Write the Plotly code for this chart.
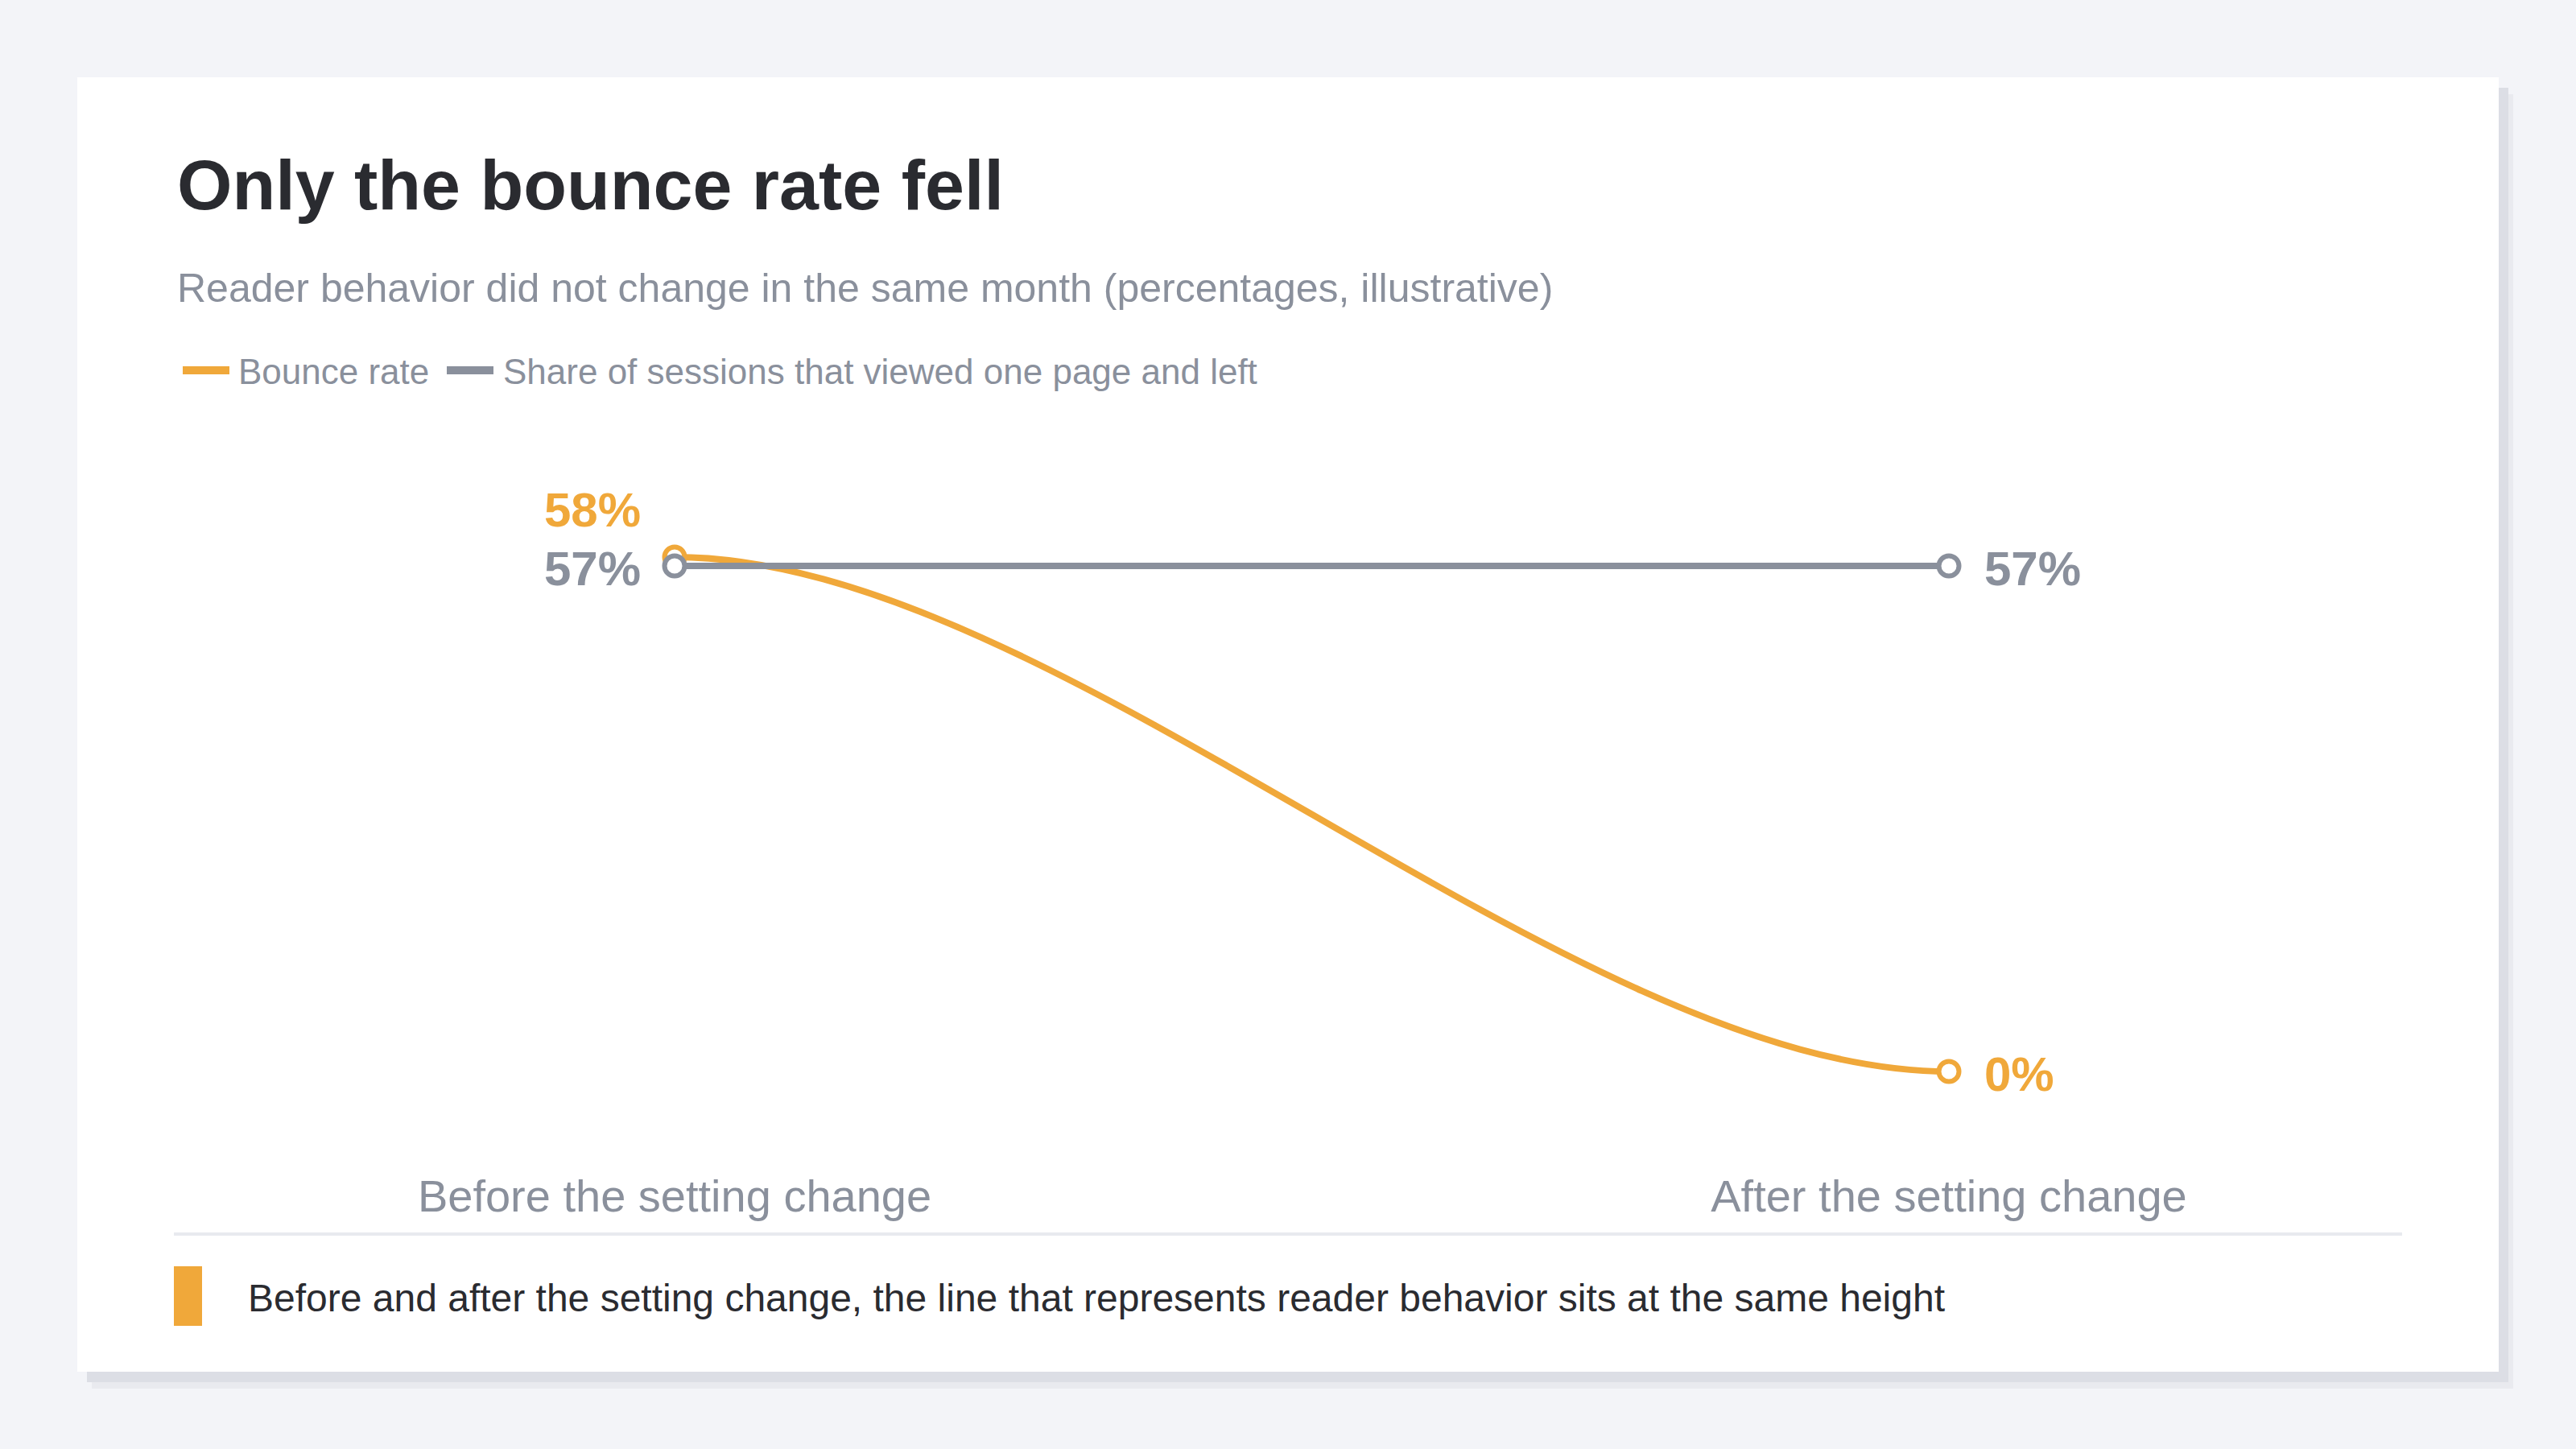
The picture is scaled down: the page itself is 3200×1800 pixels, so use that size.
import plotly.graph_objects as go

# ---------------------------------------------------------
# data
# ---------------------------------------------------------
categories = ["Before the setting change", "After the setting change"]
series_names = ["Bounce rate", "Share of sessions that viewed one page and left"]
bounce_rate = [58, 0]
single_page_share = [57, 57]

title_text = "Only the bounce rate fell"
subtitle_text = "Reader behavior did not change in the same month (percentages, illustrative)"
note_text = "Before and after the setting change, the line that represents reader behavior sits at the same height"

# ---------------------------------------------------------
# style
# ---------------------------------------------------------
W, H = 3200, 1800
PLOT_BOTTOM = 1440          # px from top where the plot area ends
BG = "#f3f4f8"
CARD = "#ffffff"
ORANGE = "#f0a83a"
GRAY = "#8a909c"
DARK = "#2a2b30"
FONT = "Liberation Sans, Arial, Helvetica, sans-serif"
CURVE_PULL = 0.3            # bezier handle length, share of the x step
LINE_W = 8

x_pos = list(range(len(categories)))


def px_x(px):
    return px / W


def px_y(py):
    # paper y is relative to the plot area (top margin 0, bottom margin H-PLOT_BOTTOM)
    return (PLOT_BOTTOM - py) / PLOT_BOTTOM


fig = go.Figure()

# orange end markers (curve itself is a shape built from the same values)
fig.add_trace(go.Scatter(
    x=x_pos, y=bounce_rate, mode="markers", name=series_names[0],
    marker=dict(symbol="circle", size=25, color="white", line=dict(color=ORANGE, width=6)),
    showlegend=False, hoverinfo="skip", cliponaxis=False,
))
fig.add_trace(go.Scatter(
    x=x_pos, y=single_page_share, mode="lines+markers", name=series_names[1],
    line=dict(color=GRAY, width=LINE_W),
    marker=dict(symbol="circle", size=25, color="white", line=dict(color=GRAY, width=6)),
    showlegend=False, hoverinfo="skip", cliponaxis=False,
))

shapes = []
# card shadow + card
shapes.append(dict(type="rect", xref="paper", yref="paper", layer="below",
                   x0=px_x(114), x1=px_x(3122), y0=px_y(117), y1=px_y(1725),
                   fillcolor="#e9eaef", line=dict(width=0)))
shapes.append(dict(type="rect", xref="paper", yref="paper", layer="below",
                   x0=px_x(108), x1=px_x(3116), y0=px_y(109), y1=px_y(1717),
                   fillcolor="#dcdee5", line=dict(width=0)))
shapes.append(dict(type="rect", xref="paper", yref="paper", layer="below",
                   x0=px_x(96), x1=px_x(3104), y0=px_y(96), y1=px_y(1704),
                   fillcolor=CARD, line=dict(width=0)))

# smooth bounce-rate curve: horizontal tangents at both ends
x0, x1 = x_pos[0], x_pos[1]
h0 = x0 + CURVE_PULL * (x1 - x0)
h1 = x1 - CURVE_PULL * (x1 - x0)
path = f"M {x0},{bounce_rate[0]} C {h0},{bounce_rate[0]} {h1},{bounce_rate[1]} {x1},{bounce_rate[1]}"
shapes.append(dict(type="path", xref="x", yref="y", layer="below", path=path,
                   line=dict(color=ORANGE, width=LINE_W)))

# divider + note marker
shapes.append(dict(type="line", xref="paper", yref="paper", layer="below",
                   x0=px_x(216), x1=px_x(2984), y0=px_y(1533), y1=px_y(1533),
                   line=dict(color="#e8eaef", width=4)))
shapes.append(dict(type="rect", xref="paper", yref="paper", layer="below",
                   x0=px_x(216), x1=px_x(251), y0=px_y(1573), y1=px_y(1647),
                   fillcolor=ORANGE, line=dict(width=0)))

# manual legend swatches
legend_items = [(series_names[0], ORANGE, 227, 298), (series_names[1], GRAY, 555, 627)]
for name, col, sx, tx in legend_items:
    shapes.append(dict(type="line", xref="paper", yref="paper",
                       x0=px_x(sx), x1=px_x(sx + 58), y0=px_y(460), y1=px_y(460),
                       line=dict(color=col, width=10)))

annotations = []
annotations.append(dict(text=f"<b>{title_text}</b>", xref="paper", yref="paper",
                        x=px_x(218), y=px_y(230), xanchor="left", yanchor="middle",
                        showarrow=False, font=dict(family=FONT, size=88, color=DARK)))
annotations.append(dict(text=subtitle_text, xref="paper", yref="paper",
                        x=px_x(218), y=px_y(358), xanchor="left", yanchor="middle",
                        showarrow=False, font=dict(family=FONT, size=50, color=GRAY)))
for name, col, sx, tx in legend_items:
    annotations.append(dict(text=name, xref="paper", yref="paper",
                            x=px_x(tx - 4), y=px_y(462), xanchor="left", yanchor="middle",
                            showarrow=False, font=dict(family=FONT, size=44, color=GRAY)))
annotations.append(dict(text=note_text, xref="paper", yref="paper",
                        x=px_x(306), y=px_y(1612), xanchor="left", yanchor="middle",
                        showarrow=False, font=dict(family=FONT, size=48, color=DARK)))

# value labels
annotations.append(dict(text=f"<b>{bounce_rate[0]}%</b>", x=x_pos[0], y=bounce_rate[0],
                        xref="x", yref="y", xanchor="right", yanchor="middle", xshift=-40, yshift=58,
                        showarrow=False, font=dict(family=FONT, size=60, color=ORANGE)))
annotations.append(dict(text=f"<b>{single_page_share[0]}%</b>", x=x_pos[0], y=single_page_share[0],
                        xref="x", yref="y", xanchor="right", yanchor="middle", xshift=-40, yshift=-3,
                        showarrow=False, font=dict(family=FONT, size=60, color=GRAY)))
annotations.append(dict(text=f"<b>{single_page_share[1]}%</b>", x=x_pos[1], y=single_page_share[1],
                        xref="x", yref="y", xanchor="left", yanchor="middle", xshift=42, yshift=-3,
                        showarrow=False, font=dict(family=FONT, size=60, color=GRAY)))
annotations.append(dict(text=f"<b>{bounce_rate[1]}%</b>", x=x_pos[1], y=bounce_rate[1],
                        xref="x", yref="y", xanchor="left", yanchor="middle", xshift=42, yshift=-3,
                        showarrow=False, font=dict(family=FONT, size=60, color=ORANGE)))

# axes: place 'Before' at 838px and 'After' at 2421px, 57% at 703px and 0% at 1331px
px_per_cat = 2421 - 838
x_range = [-838 / px_per_cat, 1 + (W - 2421) / px_per_cat]
px_per_pct = (1331 - 703) / 57
y_range = [-(PLOT_BOTTOM - 1331) / px_per_pct, 57 + 703 / px_per_pct]

fig.update_layout(
    width=W, height=H,
    margin=dict(l=0, r=0, t=0, b=H - PLOT_BOTTOM),
    paper_bgcolor=BG, plot_bgcolor="rgba(0,0,0,0)",
    showlegend=False,
    shapes=shapes, annotations=annotations,
    font=dict(family=FONT),
    xaxis=dict(range=x_range, tickvals=x_pos, ticktext=categories, showgrid=False,
               zeroline=False, showline=False, ticks="", ticklabelstandoff=8,
               tickfont=dict(family=FONT, size=56, color=GRAY), fixedrange=True),
    yaxis=dict(range=y_range, showgrid=False, zeroline=False, showline=False,
               showticklabels=False, ticks="", fixedrange=True),
)

# drop the browser's default body margin so the figure fills the window
page_fix = "document.body.style.margin='0';document.body.style.background='%s';" % BG
fig.write_html("out.html", post_script=page_fix, config={"displayModeBar": False})
